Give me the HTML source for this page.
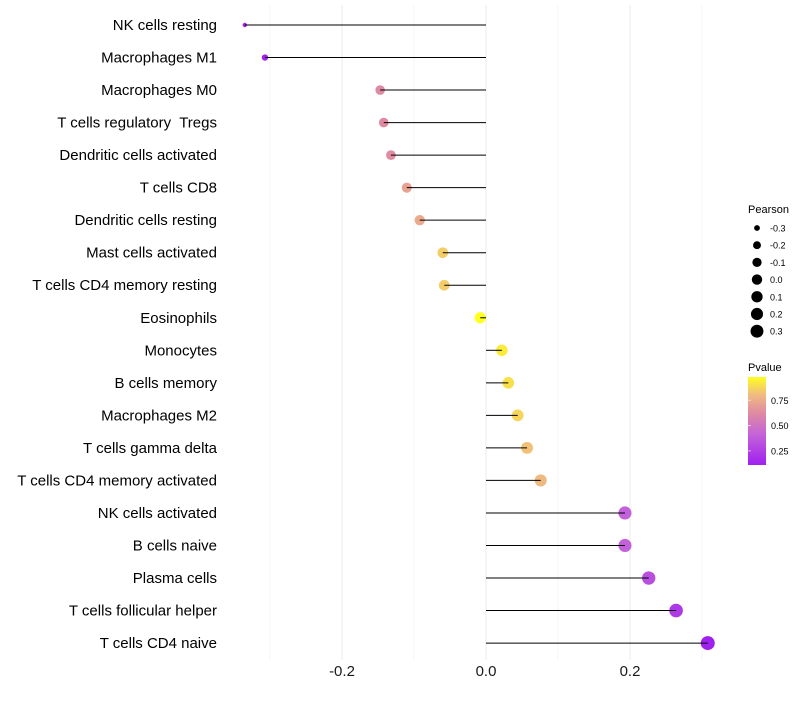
<!DOCTYPE html>
<html><head><meta charset="utf-8"><style>
body{margin:0;background:#fff;font-family:"Liberation Sans",sans-serif}
</style></head><body>
<svg id="chart" width="800" height="700" xmlns="http://www.w3.org/2000/svg" font-family="Liberation Sans, sans-serif">
<defs><linearGradient id="pg" x1="0" y1="1" x2="0" y2="0">
<stop offset="0" stop-color="#A020F0"/><stop offset="0.35" stop-color="#C464D8"/><stop offset="0.6" stop-color="#E08CA0"/><stop offset="0.8" stop-color="#F0BC80"/><stop offset="1" stop-color="#FFFF20"/></linearGradient></defs>
<g id="grid"></g><g id="marks"></g><g id="stems"></g><g id="labels"></g><g id="xaxis"></g><g id="legend"></g>
</svg>
<script>
const categories=["NK cells resting","Macrophages M1","Macrophages M0","T cells regulatory\u00a0 Tregs","Dendritic cells activated","T cells CD8","Dendritic cells resting","Mast cells activated","T cells CD4 memory resting","Eosinophils","Monocytes","B cells memory","Macrophages M2","T cells gamma delta","T cells CD4 memory activated","NK cells activated","B cells naive","Plasma cells","T cells follicular helper","T cells CD4 naive"];
const pearson=[-0.335,-0.307,-0.147,-0.142,-0.132,-0.110,-0.092,-0.060,-0.058,-0.008,0.022,0.031,0.044,0.057,0.076,0.193,0.193,0.226,0.264,0.308];
const pvalues=[0.10,0.12,0.62,0.62,0.63,0.71,0.74,0.85,0.85,0.98,0.93,0.90,0.87,0.82,0.80,0.40,0.40,0.32,0.22,0.11];
const xTicks=[-0.2,0.0,0.2];
const xTickLabels=["-0.2","0.0","0.2"];
const sizeLegend=[-0.3,-0.2,-0.1,0.0,0.1,0.2,0.3];
const pTicks=[0.25,0.5,0.75];
const NS="http://www.w3.org/2000/svg";
const X=v=>486+v*720;
const Y=i=>25+i*32.53;
const R=v=>2.2+4.8*Math.sqrt(Math.max(0,Math.min(1,(v+0.335)/0.643)));
const RL=v=>1.8+4.7*Math.sqrt(Math.max(0,Math.min(1,(v+0.335)/0.643)));
function mk(t,a,p){const e=document.createElementNS(NS,t);for(const k in a)e.setAttribute(k,a[k]);p.appendChild(e);return e;}
function col(p){const stops=[[0,[160,32,240]],[0.35,[196,100,216]],[0.6,[224,140,160]],[0.8,[240,188,128]],[1,[255,255,32]]];
 let t=Math.min(1,Math.max(0,(p-0.11)/(0.98-0.11)));
 for(let i=1;i<stops.length;i++){if(t<=stops[i][0]){const a=stops[i-1],b=stops[i];const f=(t-a[0])/(b[0]-a[0]);return 'rgb('+a[1].map((c,j)=>Math.round(c+(b[1][j]-c)*f)).join(',')+')';}}return 'rgb(255,255,32)';}
const grid=document.getElementById('grid');
[-0.3,-0.2,-0.1,0,0.1,0.2,0.3].forEach(v=>{const l=mk('line',{x1:X(v),x2:X(v),y1:5,y2:660,stroke:Math.abs(Math.round(v*10))%2===0?'#ebebeb':'#f4f4f4','stroke-width':1},grid);

});
const marks=document.getElementById('marks'),stems=document.getElementById('stems'),labels=document.getElementById('labels');
categories.forEach((c,i)=>{const y=Y(i);
 const ci=mk('circle',{cx:X(pearson[i]),cy:y,r:R(pearson[i]),fill:col(pvalues[i])},marks);
 
 
 const ln=mk('line',{x1:X(0),x2:X(pearson[i]),y1:y,y2:y,stroke:'#000','stroke-width':1},stems);
 
 
 const t=mk('text',{x:217,y:y+5,'text-anchor':'end','font-size':15,fill:'#000'},labels);t.textContent=c;
 
 });
const xa=document.getElementById('xaxis');
xTicks.forEach((v,i)=>{const t=mk('text',{x:X(v),y:676,'text-anchor':'middle','font-size':15,fill:'#1a1a1a'},xa);t.textContent=xTickLabels[i];
 
 });
const lg=document.getElementById('legend');
let tt=mk('text',{x:748,y:213,'font-size':11},lg);tt.textContent='Pearson';


sizeLegend.forEach((v,i)=>{const y=228+i*17.2;const c=mk('circle',{cx:757,cy:y,r:RL(v),fill:'#000'},lg);
 
 
 const t=mk('text',{x:770,y:y+3.5,'font-size':9},lg);t.textContent=v.toFixed(1);
 
 });
tt=mk('text',{x:748,y:371,'font-size':11},lg);tt.textContent='Pvalue';


const bar=mk('rect',{x:748,y:377,width:18,height:88,fill:'url(#pg)'},lg);


pTicks.forEach(p=>{const y=465-(p-0.11)/(0.87)*88;
 const l=mk('line',{x1:748,x2:751,y1:y,y2:y,stroke:'#fff','stroke-opacity':0.6},lg);
 
 
 const t=mk('text',{x:771,y:y+3.5,'font-size':9},lg);t.textContent=p.toFixed(2);
 
 });
</script>
</body></html>
